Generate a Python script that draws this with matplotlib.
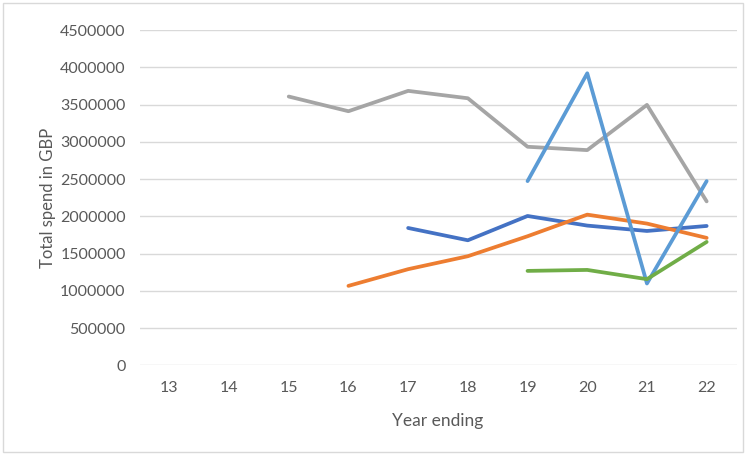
import numpy as np
import matplotlib
matplotlib.use("Agg")
import matplotlib.pyplot as plt
from matplotlib.patches import Rectangle

years = ["13", "14", "15", "16", "17", "18", "19", "20", "21", "22"]

# spend per year for each series, None where there is no figure
grey_spend = [None, None, 3607000, 3410000, 3683000, 3584000, 2933000, 2888000, 3495000, 2200000]
blue_spend = [None, None, None, None, 1843000, 1678000, 2004000, 1875000, 1803000, 1870000]
orange_spend = [None, None, None, 1066000, 1290000, 1464000, 1732000, 2022000, 1902000, 1710000]
lightblue_spend = [None, None, None, None, None, None, 2472000, 3919000, 1098000, 2472000]
green_spend = [None, None, None, None, None, None, 1267000, 1280000, 1156000, 1656000]

y_ticks = [0, 500000, 1000000, 1500000, 2000000, 2500000, 3000000, 3500000, 4000000, 4500000]

series = [
    (blue_spend, "#4472C4"),
    (orange_spend, "#ED7D31"),
    (grey_spend, "#A5A5A5"),
    (lightblue_spend, "#5B9BD5"),
    (green_spend, "#70AD47"),
]

plt.rcParams["font.family"] = ["Lato", "DejaVu Sans"]
text_col = "#595959"

W, H = 746, 455
fig = plt.figure(figsize=(W / 100, H / 100), dpi=100)
ax = fig.add_axes([139.5 / W, 1 - 365.3 / H, 597 / W, (365.3 - 30) / H])

x = np.arange(len(years))
for values, colour in series:
    vals = np.array([np.nan if v is None else v for v in values], dtype=float)
    ax.plot(x, vals, color=colour, lw=2.7, solid_capstyle="round",
            solid_joinstyle="round", zorder=3)

ax.set_xlim(-0.5, len(years) - 0.5)
ax.set_ylim(0, 4500000)
ax.set_yticks(y_ticks)
ax.set_yticklabels([str(v) for v in y_ticks])
ax.set_xticks(x)
ax.set_xticklabels(years)
ax.grid(axis="y", color="#D9D9D9", lw=1.0, zorder=0)
for s in ax.spines.values():
    s.set_visible(False)
ax.tick_params(length=0, labelsize=11.5, colors=text_col)
ax.tick_params(axis="y", pad=10)
ax.tick_params(axis="x", pad=11)

ax.set_ylabel("Total spend in GBP", fontsize=12, color=text_col, labelpad=3)
ax.set_xlabel("Year ending", fontsize=12.5, color=text_col, labelpad=13)

# thin frame round the whole chart
fig.add_artist(Rectangle((3 / W, 3 / H), (W - 6) / W, (H - 6) / H,
                         transform=fig.transFigure, fill=False,
                         edgecolor="#D9D9D9", lw=1.0))

fig.savefig("out.png", dpi=100, facecolor="white")
